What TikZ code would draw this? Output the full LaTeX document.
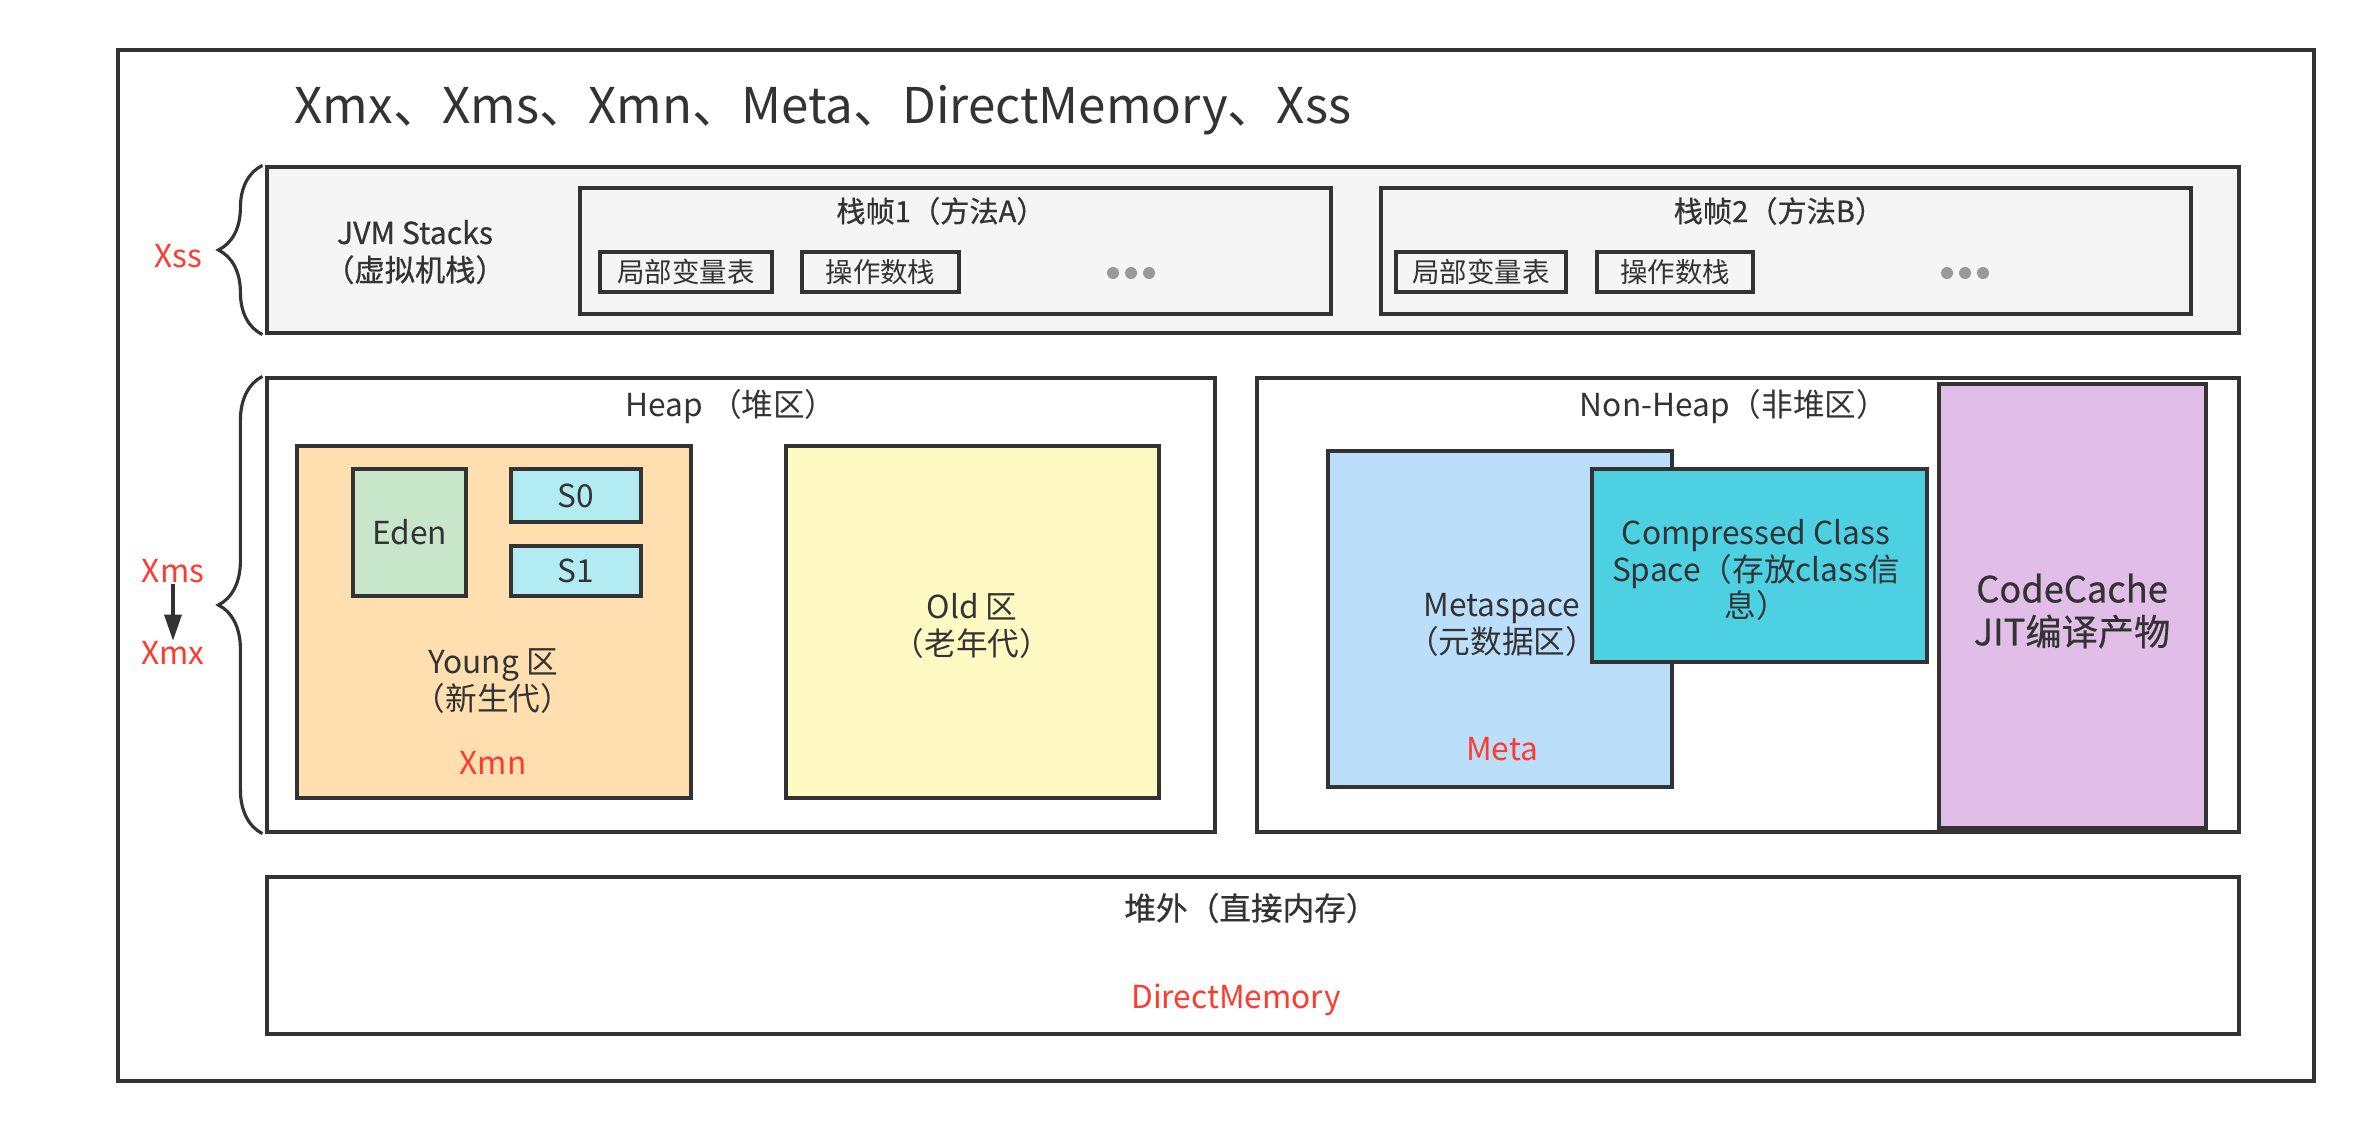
\documentclass[tikz,border=0pt]{standalone}
\usepackage{fontspec}
\setmainfont{Noto Sans CJK SC}
\newfontfamily\medf[FakeBold=0.6]{Noto Sans CJK SC}
\usetikzlibrary{fit,decorations.pathreplacing,arrows.meta}
\definecolor{ln}{HTML}{333333}
\definecolor{redc}{HTML}{FF3B30}
\definecolor{stackc}{HTML}{F5F5F5}
\definecolor{youngc}{HTML}{FFDFB0}
\definecolor{edenc}{HTML}{C8E6C9}
\definecolor{survc}{HTML}{B2EBF2}
\definecolor{oldc}{HTML}{FFF9C4}
\definecolor{metac}{HTML}{BBDEFB}
\definecolor{ccsc}{HTML}{4DD0E1}
\definecolor{codec}{HTML}{E1BEE7}
\definecolor{dotc}{HTML}{999999}
\begin{document}
\begin{tikzpicture}[x=0.01cm,y=-0.01cm,
  box/.style={draw=ln, line width=0.9pt, inner sep=0pt, rectangle},
  lbl/.style={font=\fontsize{9}{10.4}\selectfont, text=ln, align=center, inner sep=0pt},
  slbl/.style={lbl, font=\medf\fontsize{8.3}{10.4}\selectfont},
  tlbl/.style={lbl, font=\fontsize{7.8}{9}\selectfont},
  rlbl/.style={lbl, text=redc},
  dotn/.style={circle, fill=dotc, inner sep=0pt, minimum size=0.12cm},
  brc/.style={draw=ln, line width=0.9pt, decorate, decoration={brace, amplitude=0.44cm}}]
\useasboundingbox (0,0) rectangle (2364,1130);
\fill[white] (0,0) rectangle (2364,1130);

% outer
\node[box, line width=1pt, fit={(118,50) (2314,1081)}] (outer) {};
\node[lbl, font=\fontsize{14}{16}\selectfont, anchor=west] (title) at (294,110) {Xmx、Xms、Xmn、Meta、DirectMemory、Xss};

% JVM stacks
\node[box, fill=stackc, fit={(267,167) (2239,333)}] (stacks) {};
\node[slbl, font=\medf\fontsize{8.6}{10.6}\selectfont] (stackstxt) at (415,252) {JVM Stacks\\（虚拟机栈）};
\draw[brc] ([xshift=-0.03cm]stacks.south west) -- ([xshift=-0.03cm]stacks.north west);
\node[rlbl] (xss) at (178,256) {Xss};

\node[box, fit={(580,188) (1331,314)}] (f1) {};
\node[slbl] (f1t) at (941,211) {栈帧1（方法A）};
\node[box, fit={(600,252) (772,292)}] (lv1) {};
\node[tlbl] at (lv1) (lv1t) {局部变量表};
\node[box, fit={(802,252) (959,292)}] (os1) {};
\node[tlbl] at (os1) (os1t) {操作数栈};
\node[dotn] (d1a) at (1113,273) {};
\node[dotn] (d1b) at (1131,273) {};
\node[dotn] (d1c) at (1149,273) {};

\node[box, fit={(1381,188) (2191,314)}] (f2) {};
\node[slbl] (f2t) at (1779,211) {栈帧2（方法B）};
\node[box, fit={(1396,252) (1566,292)}] (lv2) {};
\node[tlbl] at (lv2) (lv2t) {局部变量表};
\node[box, fit={(1597,252) (1753,292)}] (os2) {};
\node[tlbl] at (os2) (os2t) {操作数栈};
\node[dotn] (d2a) at (1947,273) {};
\node[dotn] (d2b) at (1965,273) {};
\node[dotn] (d2c) at (1983,273) {};

% Heap
\node[box, fill=white, fit={(267,378) (1215,832)}] (heap) {};
\node[lbl] (heapt) at (731,407) {Heap （堆区）};
\draw[brc] ([xshift=-0.03cm]heap.south west) -- ([xshift=-0.03cm]heap.north west);
\node[rlbl] (xms) at (173,571) {Xms};
\node[rlbl] (xmx) at (173,653) {Xmx};
\draw[draw=ln, line width=0.9pt, -{Triangle[length=0.26cm, width=0.17cm]}] (xms) -- (xmx);

\node[box, fill=youngc, fit={(297,446) (691,798)}] (young) {};
\node[box, fill=edenc, fit={(353,469) (466,596)}] (eden) {};
\node[lbl] at (eden) (edent) {Eden};
\node[box, fill=survc, fit={(511,469) (641,522)}] (s0) {};
\node[lbl] at (s0) (s0t) {S0};
\node[box, fill=survc, fit={(511,546) (641,596)}] (s1) {};
\node[lbl] at (s1) (s1t) {S1};
\node[lbl] (youngt) at (493,681) {Young 区\\（新生代）};
\node[rlbl] (xmn) at (493,763) {Xmn};

\node[box, fill=oldc, fit={(786,446) (1159,798)}] (old) {};
\node[lbl] (oldt) at (972,626) {Old 区\\（老年代）};

% Non-heap
\node[box, fill=white, fit={(1257,378) (2239,832)}] (nonheap) {};
\node[lbl] (nonheapt) at (1734,407) {Non-Heap（非堆区）};
\node[box, fill=metac, fit={(1328,451) (1672,787)}] (meta) {};
\node[lbl] (metat) at (1502,625) {Metaspace\\（元数据区）};
\node[rlbl] (metar) at (1502,749) {Meta};
\node[box, fill=ccsc, fit={(1592,469) (1927,662)}] (ccs) {};
\node[lbl] (ccst) at (1756,570) {Compressed Class\\Space（存放class信\\息）};
\node[box, fill=codec, fit={(1939,384) (2206,828)}] (code) {};
\node[lbl, font=\medf\fontsize{10.3}{12.2}\selectfont] (codet) at (2072,611) {CodeCache\\JIT编译产物};

% Off heap
\node[box, fill=white, fit={(267,877) (2239,1034)}] (offheap) {};
\node[lbl, font=\medf\fontsize{9}{10.4}\selectfont] (offt) at (1251,908) {堆外（直接内存）};
\node[rlbl] (dm) at (1236,1000) {DirectMemory};
\end{tikzpicture}
\end{document}
